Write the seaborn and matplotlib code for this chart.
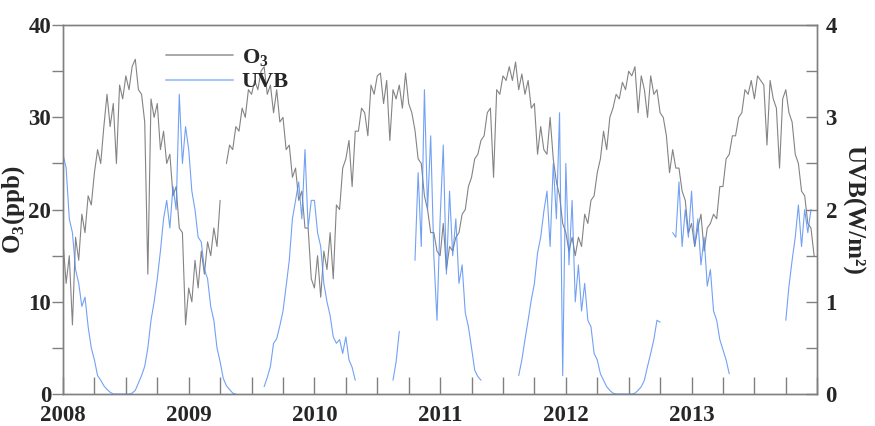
import numpy as np
import pandas as pd
import matplotlib
matplotlib.use('Agg')
import matplotlib.pyplot as plt
from matplotlib.lines import Line2D
from matplotlib.ticker import MultipleLocator
import seaborn as sns

# surface O3 (ppb), one value every 1/40 year
o3_2008 = [16.5, 12, 15, 7.5, 17, 14.5, 19.5, 17.5, 21.5, 20.5,
           24, 26.5, 25, 29, 32.5, 29, 31.5, 25, 33.5, 32,
           34.5, 33, 35.5, 36.3, 33, 32.5, 29.5, 13, 32, 30,
           31.5, 26.5, 28.5, 25, 26, 21.5, 22.5, 18, 17.5, 7.5]
o3_2009 = [11.5, 10, 14.5, 11.5, 15.5, 13, 16.5, 15, 18, 16,
           21, np.nan, 25, 27, 26.5, 29, 28.5, 31, 30, 33,
           32.5, 34, 33, 35, 35.5, 32.5, 33.5, 30.5, 33, 29.5,
           30, 26.5, 27, 23.5, 24.5, 21, 22, 18, 18, 12.5]
o3_2010 = [11.5, 15, 10.5, 15.5, 13.5, 17.5, 12.5, 20.5, 20, 24.5,
           25.5, 27.5, 22.5, 28.5, 28.5, 31, 30.5, 28, 33.5, 32.5,
           34.5, 34.8, 31.5, 34, 27.5, 33, 32, 33.5, 31, 34.8,
           31.5, 30.5, 28.6, 25.5, 25, 21.5, 20, 17.5, 17.5, 15.5]
o3_2011 = [15, 18.5, 13.5, 16, 15.5, 17, 17.5, 19.5, 20, 22.5,
           23.5, 25.5, 26, 27.5, 28, 30.5, 31, 23.5, 33, 32.5,
           34.5, 34, 35.5, 34, 36, 33, 34.7, 32.5, 34, 31,
           31.5, 26, 29, 26.5, 26, 30, 25.5, 23, 21.5, 18.5]
o3_2012 = [17.5, 15.5, 17, 15, 17, 16, 19.5, 18.5, 21, 21.5,
           24, 25.5, 28.5, 26.5, 30, 31, 32.5, 32, 33.8, 33,
           35, 34.5, 35.5, 30.5, 34.5, 33, 30, 34.5, 32.5, 33,
           30.5, 30, 28, 24, 26.5, 24.5, 24.5, 22, 21, 17.5]
o3_2013 = [18.5, 16, 18, 19.5, 15.5, 18, 18.5, 19.5, 19, 22.5,
           22.5, 25.5, 26, 28, 28, 30, 30.5, 33, 32.5, 34,
           32, 34.5, 34, 33.5, 27, 34, 32, 31, 24.5, 32,
           33, 30.5, 29.5, 26, 25, 22, 21.5, 18.5, 18, 15]

# UVB (W/m2), same time steps
nan = np.nan
uvb_2008 = [2.6, 2.45, 1.9, 1.75, 1.35, 1.2, 0.95, 1.05, 0.73, 0.5,
            0.37, 0.2, 0.15, 0.09, 0.05, 0.02, 0, 0, 0, 0,
            0, 0, 0.01, 0.04, 0.12, 0.2, 0.3, 0.5, 0.8, 1.0,
            1.25, 1.55, 1.9, 2.1, 1.8, 2.25, 2.0, 3.25, 2.5, 2.9]
uvb_2009 = [2.65, 2.2, 2.0, 1.7, 1.65, 1.35, 1.25, 0.95, 0.8, 0.5,
            0.35, 0.17, 0.09, 0.05, 0.01, 0, nan, nan, nan, nan,
            nan, nan, nan, nan, 0.08, 0.18, 0.3, 0.55, 0.6, 0.74,
            0.9, 1.17, 1.45, 1.9, 2.1, 2.3, 1.9, 2.65, 1.8, 2.1]
uvb_2010 = [2.1, 1.75, 1.6, 1.2, 1.0, 0.85, 0.62, 0.55, 0.59, 0.44,
            0.62, 0.37, 0.29, 0.15, nan, nan, nan, nan, nan, nan,
            nan, nan, nan, nan, nan, 0.15, 0.35, 0.68, nan, nan,
            nan, nan, 1.45, 2.4, 1.6, 3.3, 2.0, 2.8, 1.5, 0.8]
uvb_2011 = [1.9, 2.7, 1.3, 2.2, 1.5, 1.9, 1.2, 1.4, 0.88, 0.73,
            0.5, 0.26, 0.19, 0.15, nan, nan, nan, nan, nan, nan,
            nan, nan, nan, nan, nan, 0.2, 0.37, 0.59, 0.8, 1.02,
            1.2, 1.53, 1.7, 1.98, 2.2, 1.6, 2.5, 1.9, 3.05, 0.2]
uvb_2012 = [2.5, 1.4, 2.1, 1.0, 1.4, 0.9, 1.2, 0.8, 0.73, 0.44,
            0.37, 0.22, 0.15, 0.08, 0.04, 0.01, 0, 0, 0, 0,
            0, 0, 0.01, 0.04, 0.08, 0.15, 0.3, 0.44, 0.59, 0.8,
            0.78, nan, nan, nan, 1.75, 1.7, 2.3, 1.6, 2.0, 1.7]
uvb_2013 = [2.2, 1.6, 1.9, 1.4, 1.7, 1.17, 1.35, 0.9, 0.8, 0.59,
            0.48, 0.37, 0.22, nan, nan, nan, nan, nan, nan, nan,
            nan, nan, nan, nan, nan, nan, nan, nan, nan, nan,
            0.8, 1.17, 1.45, 1.7, 2.05, 1.6, 2.0, 1.75, 2.0, nan]

o3 = o3_2008 + o3_2009 + o3_2010 + o3_2011 + o3_2012 + o3_2013
uvb = uvb_2008 + uvb_2009 + uvb_2010 + uvb_2011 + uvb_2012 + uvb_2013
years = 2008 + np.arange(len(o3)) / 40


def segments(values):
    # split the series at missing values so gaps stay open
    df = pd.DataFrame({'year': years, 'value': values})
    df['seg'] = df['value'].isna().cumsum()
    return df.dropna()


sns.set_style('ticks')
plt.rcParams['font.family'] = ['Liberation Serif', 'DejaVu Serif']
plt.rcParams['font.weight'] = 'bold'
plt.rcParams['mathtext.fontset'] = 'custom'
plt.rcParams['mathtext.rm'] = 'Liberation Serif:bold'
plt.rcParams['mathtext.bf'] = 'Liberation Serif:bold'

O3_COLOR = '#6e6e6e'
UVB_COLOR = '#4f8af2'
EDGE = '#808080'

fig = plt.figure(figsize=(8.75, 4.26), dpi=100)
ax = fig.add_axes([0.072, 0.075, 0.862, 0.866])
ax2 = ax.twinx()

sns.lineplot(data=segments(o3), x='year', y='value', units='seg', estimator=None,
             color=O3_COLOR, linewidth=0.8, alpha=0.85, ax=ax)
sns.lineplot(data=segments(uvb), x='year', y='value', units='seg', estimator=None,
             color=UVB_COLOR, linewidth=0.8, alpha=0.8, ax=ax2)

ax.set_xlim(2008, 2014)
ax.set_ylim(0, 40)
ax2.set_ylim(0, 4)

ax.set_xticks([2008, 2009, 2010, 2011, 2012, 2013])
ax.set_xticklabels(['2008', '2009', '2010', '2011', '2012', '2013'])
ax.xaxis.set_minor_locator(MultipleLocator(0.25))
ax.yaxis.set_major_locator(MultipleLocator(10))
ax.yaxis.set_minor_locator(MultipleLocator(5))
ax2.yaxis.set_major_locator(MultipleLocator(1))
ax2.yaxis.set_minor_locator(MultipleLocator(0.5))

ax.tick_params(axis='x', which='both', direction='in', length=12, width=1,
               color=EDGE, labelsize=16.5, pad=8)
ax.tick_params(axis='y', which='both', direction='out', length=8, width=1,
               color=EDGE, labelsize=16.5, pad=0.5)
ax2.tick_params(axis='y', which='both', direction='in', length=8, width=1,
                color=EDGE, labelsize=16.5, pad=6)

for a in (ax, ax2):
    for sp in a.spines.values():
        sp.set_color(EDGE)
        sp.set_linewidth(1)
    for lab in a.get_xticklabels() + a.get_yticklabels():
        lab.set_fontweight('bold')

ax.set_xlabel('')
ax.set_ylabel(r'O$_\mathbf{3}$(ppb)', fontsize=18, fontweight='bold', labelpad=1)
ax2.set_ylabel('UVB(W/m²)', fontsize=18, fontweight='bold', rotation=-90, labelpad=20)

handles = [Line2D([], [], color='#9a9a9a', linewidth=1.2),
           Line2D([], [], color='#a9c5fa', linewidth=1.5)]
ax.legend(handles, [r'O$_\mathbf{3}$', 'UVB'], loc='upper left',
          bbox_to_anchor=(0.11, 0.995), frameon=False, handlelength=3.0,
          handletextpad=0.4, labelspacing=0.15, prop={'size': 16, 'weight': 'bold'})

fig.savefig('out.png', dpi=100, facecolor='white')
